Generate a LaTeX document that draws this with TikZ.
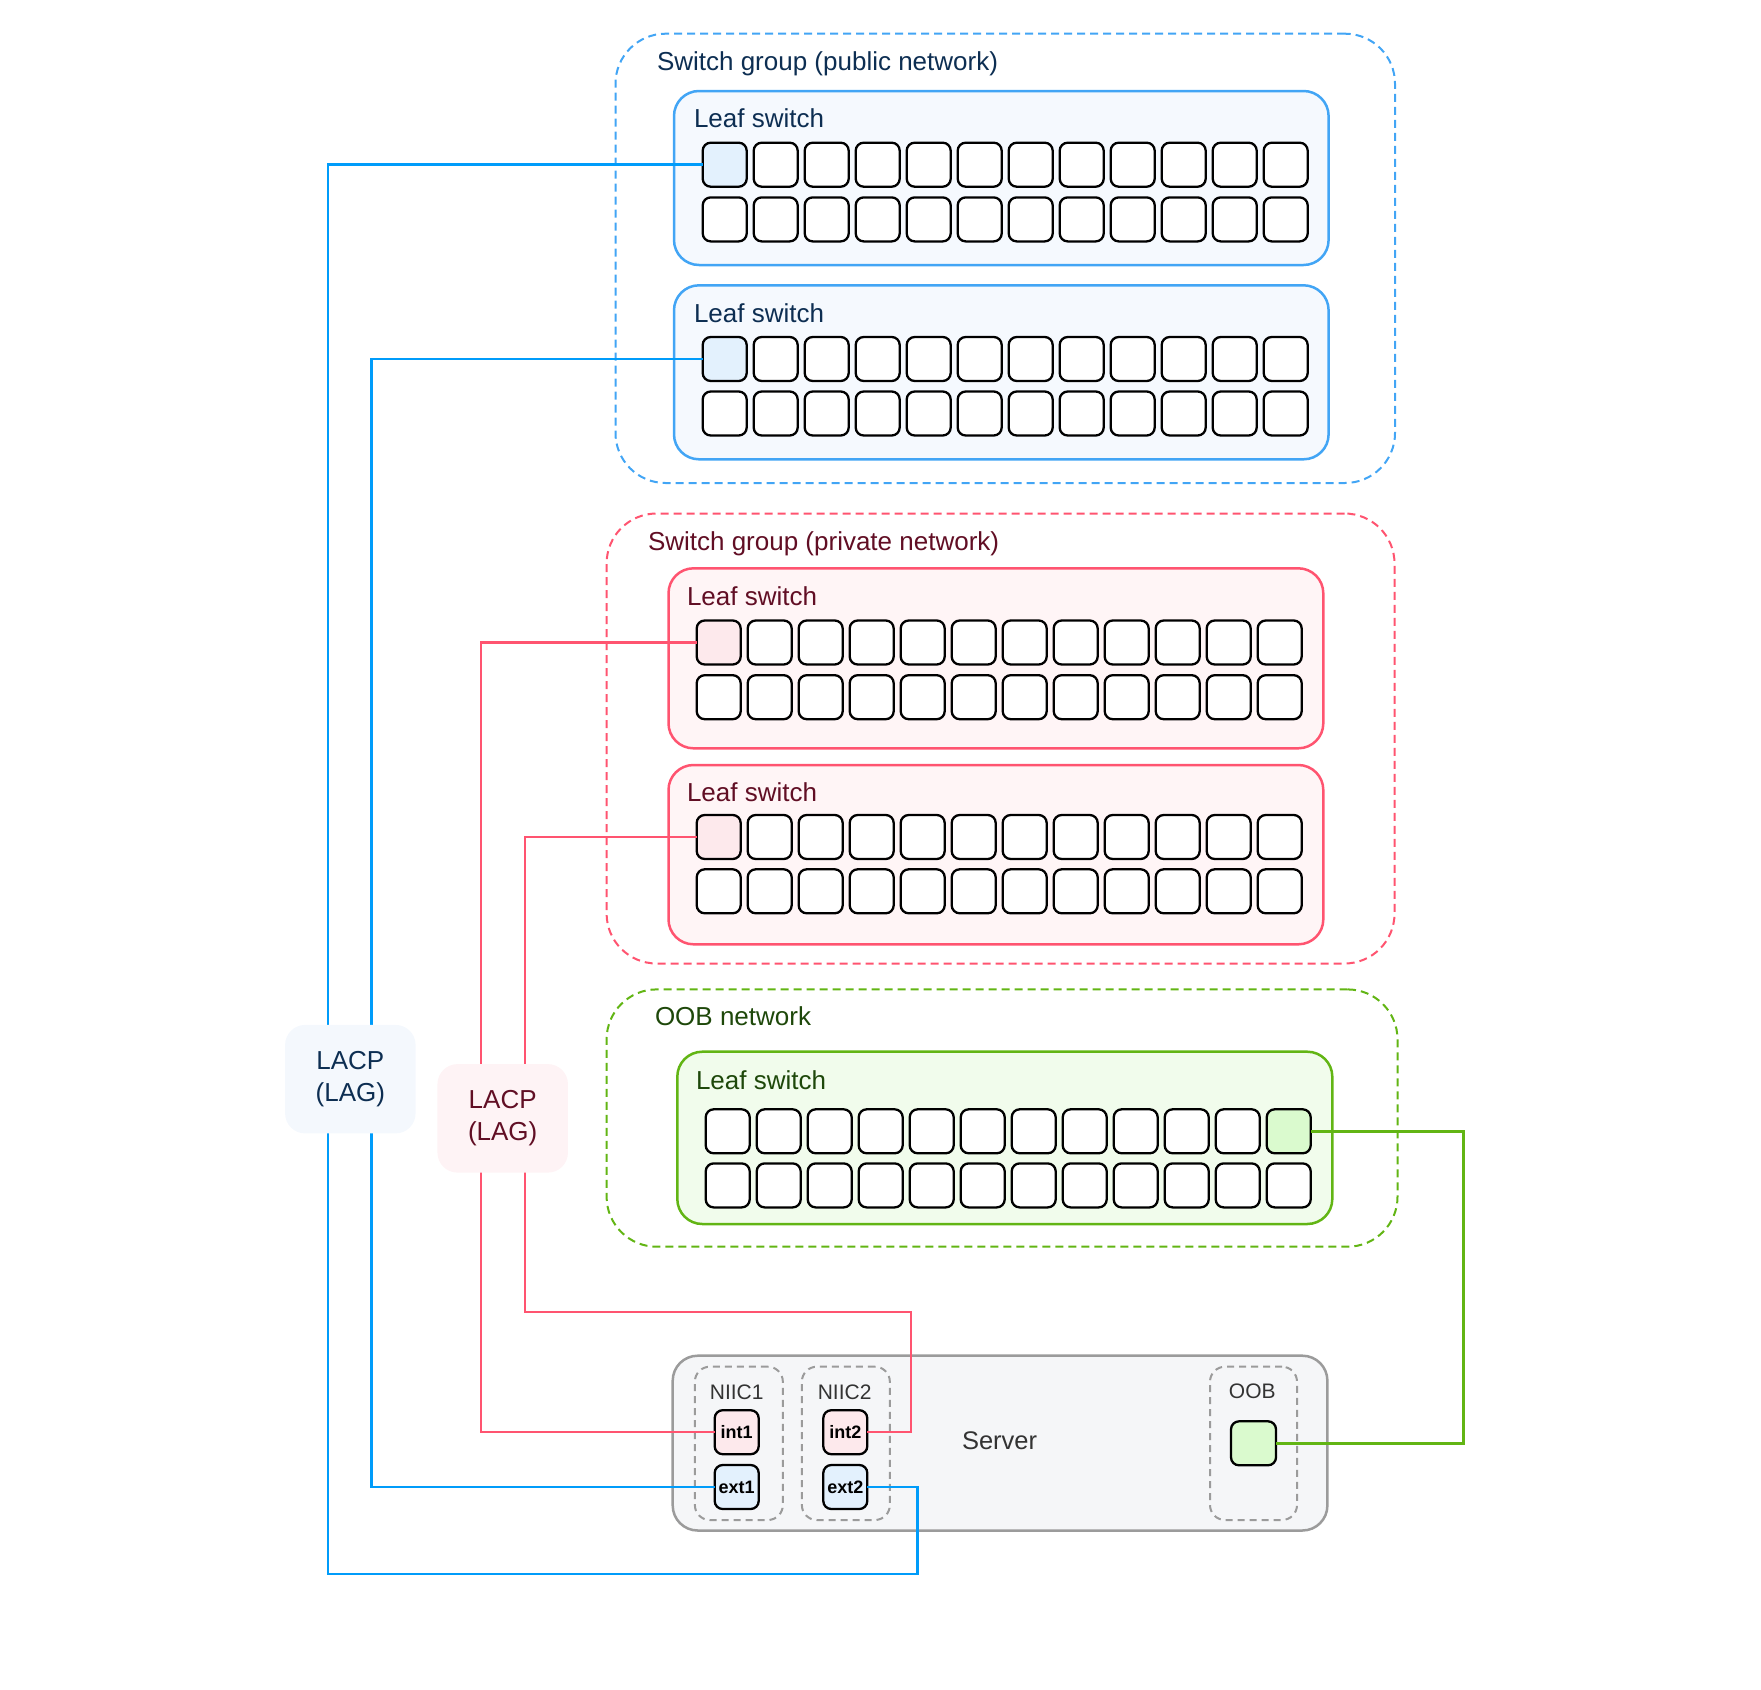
\documentclass[tikz,border=0pt]{standalone}
\usepackage{fontspec}
\setmainfont{Liberation Sans}

\definecolor{publine}{RGB}{0,156,250}
\definecolor{pubedge}{RGB}{66,165,245}
\definecolor{pubfill}{RGB}{245,249,254}
\definecolor{pubport}{RGB}{227,241,253}
\definecolor{pubtext}{RGB}{13,46,82}
\definecolor{privline}{RGB}{255,84,112}
\definecolor{privfill}{RGB}{255,245,246}
\definecolor{privport}{RGB}{253,233,236}
\definecolor{privtext}{RGB}{97,14,36}
\definecolor{oobline}{RGB}{98,181,20}
\definecolor{oobfill}{RGB}{241,252,236}
\definecolor{oobport}{RGB}{218,250,206}
\definecolor{oobtext}{RGB}{30,72,10}
\definecolor{srvedge}{RGB}{155,155,155}
\definecolor{srvfill}{RGB}{245,246,248}
\definecolor{srvtext}{RGB}{51,51,51}
\definecolor{lagpubfill}{RGB}{244,248,253}
\definecolor{lagprivfill}{RGB}{254,243,245}

\begin{document}
\begin{tikzpicture}[x=1pt,y=-1pt,
  every node/.style={inner sep=0pt,outer sep=0pt},
  netgroup/.style={draw,line width=2pt,dash pattern=on 8pt off 5pt,rounded corners=50pt},
  leafbox/.style={draw,line width=2.5pt,rounded corners=25pt},
  portbox/.style={draw=black,fill=white,line width=2.3pt,rounded corners=8pt,
    minimum width=44pt,minimum height=44pt},
  nicport/.style={portbox,font=\fontsize{18}{20}\selectfont\bfseries},
  nicgroup/.style={draw=srvedge,line width=2pt,dash pattern=on 7pt off 5pt,
    rounded corners=15pt,minimum width=88pt,minimum height=153.3pt},
  boxtitle/.style={anchor=base west,font=\fontsize{26}{30}\selectfont},
  nictitle/.style={anchor=base,text=srvtext,font=\fontsize{21}{24}\selectfont},
  lagbox/.style={rounded corners=20pt,minimum width=130.5pt,minimum height=108.5pt,
    align=center,font=\fontsize{26}{32}\selectfont},
  wire/.style={line width=2.5pt}]
\useasboundingbox (0,0) rectangle (1761,1689);

% switch groups
\node[netgroup,draw=pubedge,minimum width=779.5pt,minimum height=449.3pt] (pubgroup) at (1005.25,258.35) {};
\node[boxtitle,text=pubtext] (pubtitle) at (657,70.5) {Switch group (public network)};
\node[netgroup,draw=privline,minimum width=787.9pt,minimum height=450pt] (privgroup) at (1000.55,738.5) {};
\node[boxtitle,text=privtext] (privtitle) at (648,550.7) {Switch group (private network)};
\node[netgroup,draw=oobline,minimum width=790.9pt,minimum height=257.3pt] (oobgroup) at (1002.05,1118.05) {};
\node[boxtitle,text=oobtext] (oobtitle) at (655,1025) {OOB network};

% leaf switches
\node[leafbox,draw=pubedge,fill=pubfill,minimum width=654.6pt,minimum height=174pt] (publeafA) at (1001.3,178) {};
\node[boxtitle,text=pubtext] (publeafAtxt) at (694,127.7) {Leaf switch};
\node[leafbox,draw=pubedge,fill=pubfill,minimum width=654.6pt,minimum height=174pt] (publeafB) at (1001.3,372.3) {};
\node[boxtitle,text=pubtext] (publeafBtxt) at (694,322) {Leaf switch};
\node[leafbox,draw=privline,fill=privfill,minimum width=654.8pt,minimum height=180pt] (privleafA) at (995.9,658.3) {};
\node[boxtitle,text=privtext] (privleafAtxt) at (687,605) {Leaf switch};
\node[leafbox,draw=privline,fill=privfill,minimum width=654.8pt,minimum height=179.3pt] (privleafB) at (995.9,854.65) {};
\node[boxtitle,text=privtext] (privleafBtxt) at (687,801.5) {Leaf switch};
\node[leafbox,draw=oobline,fill=oobfill,minimum width=655pt,minimum height=172.3pt] (oobleaf) at (1004.8,1137.85) {};
\node[boxtitle,text=oobtext] (oobleaftxt) at (696,1089.3) {Leaf switch};

% ports
\node[portbox,fill=pubport] (pubA-1-1) at (724.7,164.7) {};
\foreach \c in {2,...,12}
  \node[portbox] (pubA-1-\c) at ({724.7+51*(\c-1)},164.7) {};
\foreach \c in {1,...,12}
  \node[portbox] (pubA-2-\c) at ({724.7+51*(\c-1)},219.4) {};

\node[portbox,fill=pubport] (pubB-1-1) at (724.7,359) {};
\foreach \c in {2,...,12}
  \node[portbox] (pubB-1-\c) at ({724.7+51*(\c-1)},359) {};
\foreach \c in {1,...,12}
  \node[portbox] (pubB-2-\c) at ({724.7+51*(\c-1)},413.5) {};

\node[portbox,fill=privport] (privA-1-1) at (718.7,642.5) {};
\foreach \c in {2,...,12}
  \node[portbox] (privA-1-\c) at ({718.7+51*(\c-1)},642.5) {};
\foreach \c in {1,...,12}
  \node[portbox] (privA-2-\c) at ({718.7+51*(\c-1)},697.2) {};

\node[portbox,fill=privport] (privB-1-1) at (718.7,837) {};
\foreach \c in {2,...,12}
  \node[portbox] (privB-1-\c) at ({718.7+51*(\c-1)},837) {};
\foreach \c in {1,...,12}
  \node[portbox] (privB-2-\c) at ({718.7+51*(\c-1)},891.3) {};

\foreach \c in {1,...,11}
  \node[portbox] (oob-1-\c) at ({727.7+51*(\c-1)},1131.3) {};
\node[portbox,fill=oobport] (oob-1-12) at (1288.7,1131.3) {};
\foreach \c in {1,...,12}
  \node[portbox] (oob-2-\c) at ({727.7+51*(\c-1)},1185.4) {};

% server
\node[draw=srvedge,fill=srvfill,line width=2.5pt,rounded corners=25pt,
  minimum width=654.7pt,minimum height=174.8pt] (server) at (1000.05,1443.1) {};
\node[text=srvtext,font=\fontsize{25.5}{30}\selectfont] (servertxt) at (999.6,1441) {Server};
\node[nicgroup] (nic1) at (738.85,1443.35) {};
\node[nictitle] (nic1txt) at (736.7,1399) {NIIC1};
\node[nicgroup] (nic2) at (845.85,1443.35) {};
\node[nictitle] (nic2txt) at (844.6,1399) {NIIC2};
\node[nicgroup,minimum width=87pt] (oobnic) at (1253.5,1443.35) {};
\node[nictitle] (oobnictxt) at (1252.3,1398) {OOB};
\node[nicport,fill=privport] (int1) at (736.7,1432.2) {int1};
\node[nicport,fill=pubport] (ext1) at (736.7,1487) {ext1};
\node[nicport,fill=privport] (int2) at (845.3,1432.2) {int2};
\node[nicport,fill=pubport] (ext2) at (845.3,1487) {ext2};
\node[portbox,fill=oobport,minimum width=45pt] (oobnicport) at (1253.5,1443.3) {};

% cabling
\coordinate (bendA) at (328,1574);
\coordinate (bendB) at (917.7,1574);
\coordinate (bendC) at (371.7,1487);
\coordinate (bendD) at (481,1432.2);
\coordinate (bendE) at (525,1311.8);
\coordinate (bendF) at (911,1311.8);
\coordinate (bendG) at (1463.3,1131.3);
\draw[wire,publine] (pubA-1-1.west) -| (bendA) -- (bendB) |- (ext2.east);
\draw[wire,publine] (pubB-1-1.west) -| (bendC) -- (ext1.west);
\draw[wire,privline] (privA-1-1.west) -| (bendD) -- (int1.west);
\draw[wire,privline] (privB-1-1.west) -| (bendE) -- (bendF) |- (int2.east);
\draw[wire,oobline] (oobnicport.east) -| (bendG) -- (oob-1-12.east);

% LACP bundles
\node[lagbox,fill=lagpubfill,text=pubtext] (lagpub) at (350.35,1079.15) {LACP\\(LAG)};
\node[lagbox,fill=lagprivfill,text=privtext] (lagpriv) at (502.7,1118.35) {LACP\\(LAG)};
\end{tikzpicture}
\end{document}
